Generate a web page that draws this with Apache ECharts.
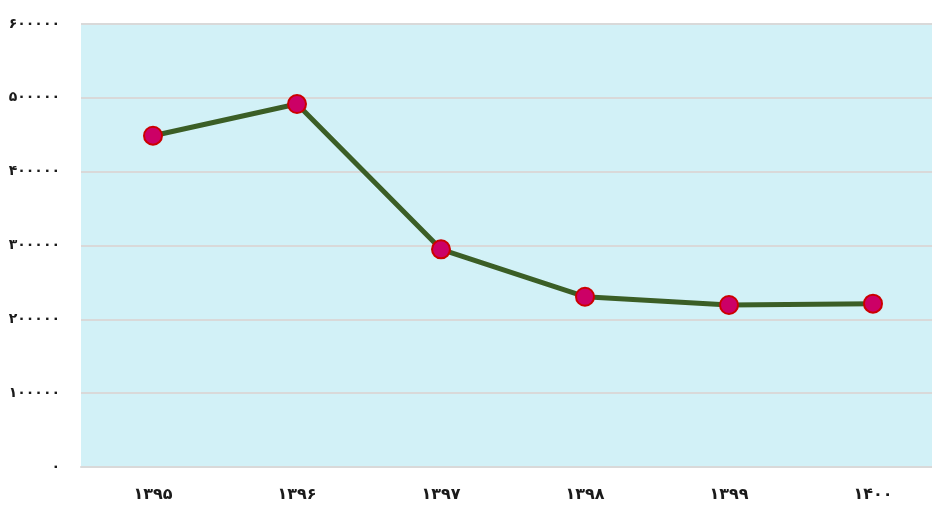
<!DOCTYPE html>
<html>
<head>
<meta charset="utf-8">
<script src="https://cdn.jsdelivr.net/npm/echarts@6/dist/echarts.min.js"></script>
<style>
  html, body { margin: 0; padding: 0; background: #fff; overflow: hidden; }
  #main { width: 945px; height: 509px; }
</style>
</head>
<body>
<div id="main"></div>
<script>
// داده‌ها
var years = ['۱۳۹۵', '۱۳۹۶', '۱۳۹۷', '۱۳۹۸', '۱۳۹۹', '۱۴۰۰'];
var values = [448700, 491600, 294800, 230600, 219400, 221200];
var persianDigits = ['۰', '۱', '۲', '۳', '۴', '۵', '۶', '۷', '۸', '۹'];

function toPersian(n) {
  return String(n).replace(/[0-9]/g, function (d) { return persianDigits[+d]; });
}

var chart = echarts.init(document.getElementById('main'));

var option = {
  animation: false,
  grid: {
    left: 81,
    top: 24,
    width: 864,
    height: 443,
    show: true,
    backgroundColor: '#d2f1f7',
    borderWidth: 0
  },
  xAxis: {
    type: 'category',
    data: years,
    boundaryGap: true,
    axisLine: { show: true, lineStyle: { color: '#d9d9d9', width: 2 } },
    axisTick: { show: false },
    axisLabel: {
      margin: 20,
      color: '#1a1a1a',
      fontFamily: 'DejaVu Sans',
      fontWeight: 'bold',
      fontSize: 16
    }
  },
  yAxis: {
    type: 'value',
    min: 0,
    max: 600000,
    interval: 100000,
    axisLine: { show: false },
    axisTick: { show: false },
    splitLine: { lineStyle: { color: '#d9d9d9', width: 2 } },
    axisLabel: {
      margin: 21,
      color: '#1a1a1a',
      fontFamily: 'DejaVu Sans',
      fontWeight: 'bold',
      fontSize: 14,
      formatter: function (v) { return toPersian(v); }
    }
  },
  series: [
    {
      type: 'line',
      data: values,
      symbol: 'circle',
      symbolSize: 18,
      lineStyle: { color: '#3b5e26', width: 5 },
      itemStyle: { color: '#cc0066', borderColor: '#cc0000', borderWidth: 2 }
    }
  ]
};

chart.setOption(option);
</script>
</body>
</html>
